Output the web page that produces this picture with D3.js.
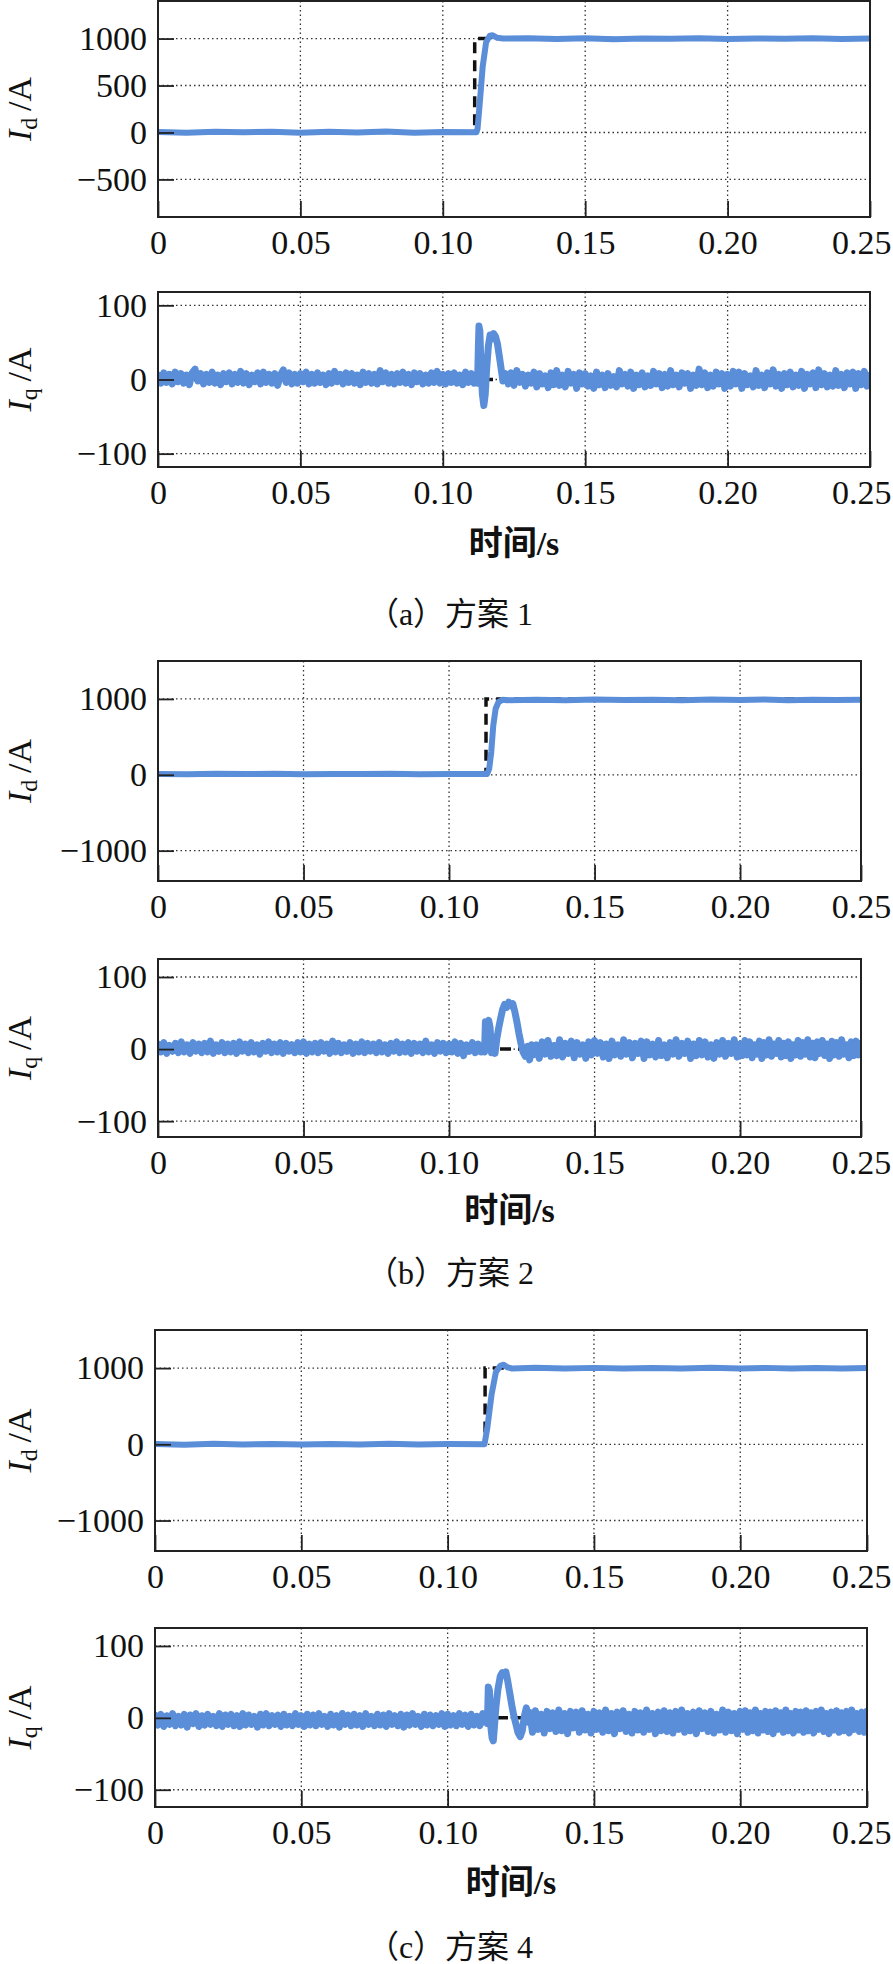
<!DOCTYPE html>
<html>
<head>
<meta charset="utf-8">
<script src="https://cdn.jsdelivr.net/npm/d3@7"></script>
<style>
  body { margin: 0; background: #fff; }
  svg { display: block; }
</style>
</head>
<body>
<svg id="fig" width="893" height="1964"></svg>
<script>
// ---- data ----
const tTicks = [0, 0.05, 0.10, 0.15, 0.20, 0.25];
const tTickLabels = ["0", "0.05", "0.10", "0.15", "0.20", "0.25"];
const idTicksA = [-500, 0, 500, 1000];
const idTicksBC = [-1000, 0, 1000];
const iqTicks = [-100, 0, 100];
const captions = ["（a）方案 1", "（b）方案 2", "（c）方案 4"];
const timeLabel = "时间/s";
const dt = 0.001; // sampling step of the Iq noise arrays

// Id reference (black dashed) and measured (blue), [t, A]
const idRefA = [[0, 0], [0.1112, 0], [0.1112, 1000], [0.25, 1000]];
const idA = [[0, 6], [0.01, -4], [0.02, 8], [0.03, 2], [0.04, 9], [0.05, -3], [0.06, 7], [0.07, 0], [0.08, 10], [0.09, -2], [0.10, 6], [0.1118, 2],
  [0.1122, 40], [0.1130, 320], [0.1140, 700], [0.1152, 960], [0.1165, 1030], [0.1175, 1035], [0.1190, 1010], [0.1210, 1000],
  [0.13, 1004], [0.14, 996], [0.15, 1003], [0.16, 994], [0.17, 1002], [0.18, 997], [0.19, 1004], [0.20, 995], [0.21, 1002], [0.22, 997], [0.23, 1003], [0.24, 996], [0.25, 1000]];

const idRefB = [[0, 0], [0.1127, 0], [0.1127, 1000], [0.25, 1000]];
const idB = [[0, 12], [0.01, 8], [0.02, 14], [0.03, 9], [0.04, 13], [0.05, 7], [0.06, 12], [0.07, 10], [0.08, 14], [0.09, 8], [0.10, 12], [0.1131, 10],
  [0.1138, 80], [0.1145, 300], [0.1152, 650], [0.1160, 870], [0.1170, 960], [0.1185, 990], [0.1200, 984],
  [0.13, 990], [0.14, 984], [0.15, 991], [0.16, 985], [0.17, 990], [0.18, 983], [0.19, 991], [0.20, 986], [0.21, 992], [0.22, 984], [0.23, 990], [0.24, 985], [0.25, 988]];

const idRefC = [[0, 0], [0.1128, 0], [0.1128, 1000], [0.25, 1000]];
const idC = [[0, 3], [0.01, -5], [0.02, 6], [0.03, -2], [0.04, 5], [0.05, -4], [0.06, 4], [0.07, -3], [0.08, 6], [0.09, -2], [0.10, 4], [0.1126, 2],
  [0.1135, 200], [0.1150, 650], [0.1165, 950], [0.1180, 1030], [0.1190, 1045], [0.1205, 1010], [0.1220, 995],
  [0.13, 1004], [0.14, 996], [0.15, 1003], [0.16, 995], [0.17, 1002], [0.18, 996], [0.19, 1004], [0.20, 995], [0.21, 1003], [0.22, 996], [0.23, 1002], [0.24, 995], [0.25, 1001]];

// Iq noise at 1 ms (251 values) and the transient, [t, A]
const iqNoiseA = [
  6,-5,9,-4,7,-6,10,-3,8,-5,6,-7,9,14,-2,8,-6,7,-4,10,-5,6,-7,8,-3,
  9,-6,7,-4,11,-5,8,-7,6,-3,9,-6,10,-4,7,-5,8,-8,6,13,-4,9,-6,7,-5,
  8,-3,10,-6,7,-5,9,-4,6,-7,8,-5,11,-3,7,-6,9,-4,8,-5,6,-7,10,-4,8,
  -5,7,-6,12,-3,9,-5,7,-6,8,-4,10,-5,7,-7,9,-3,8,-6,6,-5,9,-4,11,-5,
  7,-6,8,-4,9,-5,6,-7,10,-4,8,-5,6,-4,7,-5,8,-6,7,-5,9,-7,8,-6,9,
  -8,12,-4,7,-9,6,-5,10,-10,8,-6,5,-11,9,-7,12,-8,6,-10,11,-5,7,-12,9,-6,
  8,-9,5,-12,10,-7,6,-11,8,-8,4,-10,12,-6,7,-9,10,-12,6,-7,9,-10,5,-8,11,
  -6,8,-11,7,-9,12,-7,6,-10,9,-5,8,-12,6,-8,14,-7,9,-11,6,-9,10,-6,8,-12,
  7,-9,11,-6,10,-12,8,-7,5,-10,12,-8,6,-11,9,-6,13,-9,7,-12,8,-7,10,-10,6,
  -8,11,-12,7,-6,9,-11,13,-7,8,-10,6,-9,12,-8,7,-11,9,-6,10,-12,8,-7,11,-9,
  6];
const iqTransA = [[0.1118, 3], [0.1122, -5], [0.1125, 45], [0.1127, 72], [0.1130, 66], [0.1134, 20], [0.1139, -20], [0.1144, -35],
  [0.1149, -20], [0.1154, 15], [0.1160, 45], [0.1166, 60], [0.1172, 55], [0.1178, 62], [0.1185, 58], [0.1192, 48], [0.1199, 30],
  [0.1205, 14], [0.1211, -2], [0.1217, 8]];

const iqNoiseB = [
  7,-4,9,-6,5,-3,8,-5,10,-4,6,-6,9,-3,7,-5,8,-4,11,-6,6,-3,9,-5,7,
  -4,8,-6,10,-3,7,-5,9,-4,6,-7,8,-3,10,-5,7,-4,9,-6,8,-3,6,-5,9,-4,
  10,-6,7,-4,8,-5,9,-3,7,-6,11,-4,8,-5,6,-3,9,-6,7,-4,10,-5,8,-3,7,
  -5,9,-4,6,-6,8,-3,10,-5,7,-4,9,-6,8,-3,7,-5,11,-4,6,-6,9,-3,8,-5,
  7,-4,10,-6,8,-9,6,-3,9,-5,7,-4,8,-6,5,-3,7,-5,9,-4,6,-6,8,-3,7,
  -5,9,-12,11,-8,6,-13,10,-7,12,-10,5,-9,13,-11,8,-6,11,-12,9,-7,6,-13,10,-8,
  12,-6,9,-11,7,-13,11,-8,6,-10,13,-7,9,-12,8,-6,11,-13,10,-8,7,-11,12,-9,6,
  -12,9,-7,13,-10,8,-6,11,-13,7,-9,12,-8,10,-11,6,-13,9,-7,12,-10,8,-6,13,-11,
  7,-9,12,-8,10,-12,6,-7,11,-13,9,-8,13,-10,7,-6,12,-11,8,-9,10,-13,6,-8,12,
  -10,9,-7,13,-11,8,-12,10,-6,12,-9,7,-13,11,-8,9,-10,13,-7,6,-12,10,-9,11,-8,
  8];
const iqTransB = [[0.1118, 5], [0.1122, -4], [0.1125, 38], [0.1130, 32], [0.1136, 40], [0.1141, 30], [0.1146, -5], [0.1152, 8],
  [0.1158, -6], [0.1164, 14], [0.1170, 28], [0.1177, 42], [0.1184, 55], [0.1191, 62], [0.1198, 58], [0.1205, 65], [0.1212, 60],
  [0.1219, 63], [0.1226, 52], [0.1233, 38], [0.1240, 22], [0.1247, 8], [0.1254, -4], [0.1262, -10], [0.1270, 4], [0.1277, -15], [0.1284, 6]];

const iqNoiseC = [
  4,-10,5,-12,3,-9,6,-11,2,-10,5,-13,4,-8,6,-12,3,-10,5,-9,2,-11,6,-12,4,
  -9,5,-11,3,-12,6,-10,4,-9,2,-13,5,-10,6,-11,3,-9,4,-12,5,-10,2,-11,6,-9,
  3,-12,5,-10,4,-11,6,-9,2,-12,5,-10,3,-13,6,-9,4,-11,5,-10,3,-12,6,-9,2,
  -11,5,-10,4,-12,6,-9,3,-11,5,-13,4,-10,6,-9,2,-12,5,-10,4,-11,3,-9,6,-12,
  5,-10,3,-11,6,-9,4,-12,5,-10,2,-11,6,-13,4,-9,5,-12,3,-10,6,-11,4,-9,5,
  -10,6,-14,8,-20,10,-16,5,-21,9,-15,7,-19,11,-18,6,-22,9,-14,8,-20,10,-17,5,-21,
  9,-16,7,-20,11,-18,6,-22,8,-15,10,-19,5,-21,9,-17,7,-20,11,-16,6,-22,8,-18,10,
  -19,7,-21,9,-16,11,-20,6,-18,8,-22,10,-15,7,-19,9,-21,5,-17,11,-20,8,-18,6,-22,
  9,-16,10,-20,7,-18,11,-21,6,-17,9,-19,8,-22,10,-16,7,-20,11,-18,6,-21,9,-17,8,
  -20,10,-18,7,-21,9,-16,11,-19,6,-22,8,-17,10,-20,7,-18,9,-21,11,-16,6,-19,8,-20,
  9];
const iqTransC = [[0.1128, -6], [0.1133, 4], [0.1136, -8], [0.1139, 43], [0.1143, 38], [0.1147, -10], [0.1152, -28], [0.1156, -32],
  [0.1160, -12], [0.1165, 15], [0.1172, 40], [0.1180, 58], [0.1187, 63], [0.1193, 60], [0.1199, 64], [0.1205, 52], [0.1212, 35],
  [0.1219, 18], [0.1226, 3], [0.1233, -8], [0.1240, -20], [0.1248, -26], [0.1255, -18], [0.1262, 2], [0.1269, 14], [0.1276, -6]];

const iqRef = [[0, 0], [0.25, 0]];

// ---- layout ----
const W = 893;
const SERIF = "'Liberation Serif', 'Times New Roman', serif";
const CJK = "'Liberation Serif', 'Noto Sans CJK SC', sans-serif";
const BLUE = "#5b8ed9";

function buildIq(noise, trans) {
  const t0 = trans[0][0], t1 = trans[trans.length - 1][0];
  const pts = noise.map((v, i) => [i * dt, v]).filter(d => d[0] < t0 || d[0] > t1);
  return pts.concat(trans).sort((a, b) => a[0] - b[0]);
}

const plots = [
  { top: 1, bottom: 217, left: 158, right: 870, f20: 0.80, yDom: [-900, 1400], yTicks: idTicksA, ref: idRefA, sig: idA, sub: "d", w: 6 },
  { top: 292, bottom: 467, left: 158, right: 870, f20: 0.80, yDom: [-118, 118], yTicks: iqTicks, ref: iqRef, sig: buildIq(iqNoiseA, iqTransA), sub: "q", w: 7 },
  { top: 661, bottom: 881, left: 158, right: 861, f20: 0.828, yDom: [-1400, 1500], yTicks: idTicksBC, ref: idRefB, sig: idB, sub: "d", w: 6 },
  { top: 959, bottom: 1137, left: 158, right: 861, f20: 0.828, yDom: [-122, 125], yTicks: iqTicks, ref: iqRef, sig: buildIq(iqNoiseB, iqTransB), sub: "q", w: 7 },
  { top: 1330, bottom: 1551, left: 155, right: 867, f20: 0.822, yDom: [-1400, 1500], yTicks: idTicksBC, ref: idRefC, sig: idC, sub: "d", w: 6 },
  { top: 1628, bottom: 1807, left: 155, right: 867, f20: 0.822, yDom: [-124, 125], yTicks: iqTicks, ref: iqRef, sig: buildIq(iqNoiseC, iqTransC), sub: "q", w: 7 }
];
const timeLabelY = [555, 1222, 1894];
const captionY = [625, 1284, 1958];

const svg = d3.select("#fig");
svg.append("rect").attr("width", W).attr("height", 1964).attr("fill", "#fff");

plots.forEach((p, k) => {
  const x = d3.scaleLinear()
    .domain([0, 0.20, 0.25])
    .range([p.left, p.left + p.f20 * (p.right - p.left), p.right]);
  const y = d3.scaleLinear().domain(p.yDom).range([p.bottom, p.top]);

  const g = svg.append("g");
  const clipId = "clip" + k;
  g.append("clipPath").attr("id", clipId)
    .append("rect")
    .attr("x", p.left).attr("y", p.top)
    .attr("width", p.right - p.left).attr("height", p.bottom - p.top);

  // dotted grid
  const grid = g.append("g").attr("stroke", "#333").attr("stroke-width", 1.3).attr("stroke-dasharray", "1.5,3");
  grid.selectAll(".gx").data(tTicks.slice(1, -1)).enter().append("line")
    .attr("x1", d => x(d)).attr("x2", d => x(d))
    .attr("y1", p.top).attr("y2", p.bottom);
  grid.selectAll(".gy").data(p.yTicks).enter().append("line")
    .attr("x1", p.left).attr("x2", p.right)
    .attr("y1", d => y(d)).attr("y2", d => y(d));

  const line = d3.line().x(d => x(d[0])).y(d => y(d[1]));
  const lines = g.append("g").attr("clip-path", `url(#${clipId})`).attr("fill", "none");

  lines.append("path")
    .attr("d", line(p.ref))
    .attr("stroke", "#111")
    .attr("stroke-width", 3.5)
    .attr("stroke-dasharray", "11,7");

  lines.append("path")
    .attr("d", line(p.sig))
    .attr("stroke", BLUE)
    .attr("stroke-width", p.w)
    .attr("stroke-linejoin", "round")
    .attr("stroke-linecap", "round");

  // frame
  g.append("rect")
    .attr("x", p.left).attr("y", p.top)
    .attr("width", p.right - p.left).attr("height", p.bottom - p.top)
    .attr("fill", "none").attr("stroke", "#222").attr("stroke-width", 2);

  // axes (inward ticks)
  const ax = g.append("g")
    .attr("transform", `translate(0,${p.bottom})`)
    .call(d3.axisBottom(x).tickValues(tTicks).tickSize(-16).tickPadding(13)
      .tickFormat((d, i) => tTickLabels[i]));
  const ay = g.append("g")
    .attr("transform", `translate(${p.left},0)`)
    .call(d3.axisLeft(y).tickValues(p.yTicks).tickSize(-16).tickPadding(11)
      .tickFormat(d => d < 0 ? "\u2212" + Math.abs(d) : String(d)));
  [ax, ay].forEach(a => {
    a.select(".domain").remove();
    a.selectAll(".tick line").attr("stroke", "#222").attr("stroke-width", 1.8);
    a.selectAll("text").attr("font-family", SERIF).attr("font-size", 34).attr("fill", "#111");
  });

  // keep the last time label inside the page
  ax.selectAll(".tick text").each(function (d) {
    const half = this.getComputedTextLength() / 2;
    const over = x(d) + half - (W - 2);
    if (over > 0) d3.select(this).attr("x", -over);
  });

  // y label: I_d/A or I_q/A
  const cy = (p.top + p.bottom) / 2;
  const lab = g.append("text")
    .attr("transform", `translate(31,${cy}) rotate(-90)`)
    .attr("text-anchor", "middle")
    .attr("font-family", SERIF).attr("font-size", 34).attr("fill", "#111");
  lab.append("tspan").attr("font-style", "italic").text("I");
  lab.append("tspan").attr("font-size", 24).attr("dy", 6).text(p.sub);
  lab.append("tspan").attr("dy", -6).text("\u2009/A");

  // time label under each Iq plot
  if (k % 2 === 1) {
    svg.append("text")
      .attr("x", (p.left + p.right) / 2).attr("y", timeLabelY[(k - 1) / 2])
      .attr("text-anchor", "middle")
      .attr("font-family", CJK).attr("font-size", 34).attr("font-weight", "bold").attr("fill", "#111")
      .text(timeLabel);
  }
});

captions.forEach((c, i) => {
  svg.append("text")
    .attr("x", 450).attr("y", captionY[i])
    .attr("text-anchor", "middle")
    .attr("font-family", CJK).attr("font-size", 32).attr("fill", "#111")
    .text(c);
});
</script>
</body>
</html>
